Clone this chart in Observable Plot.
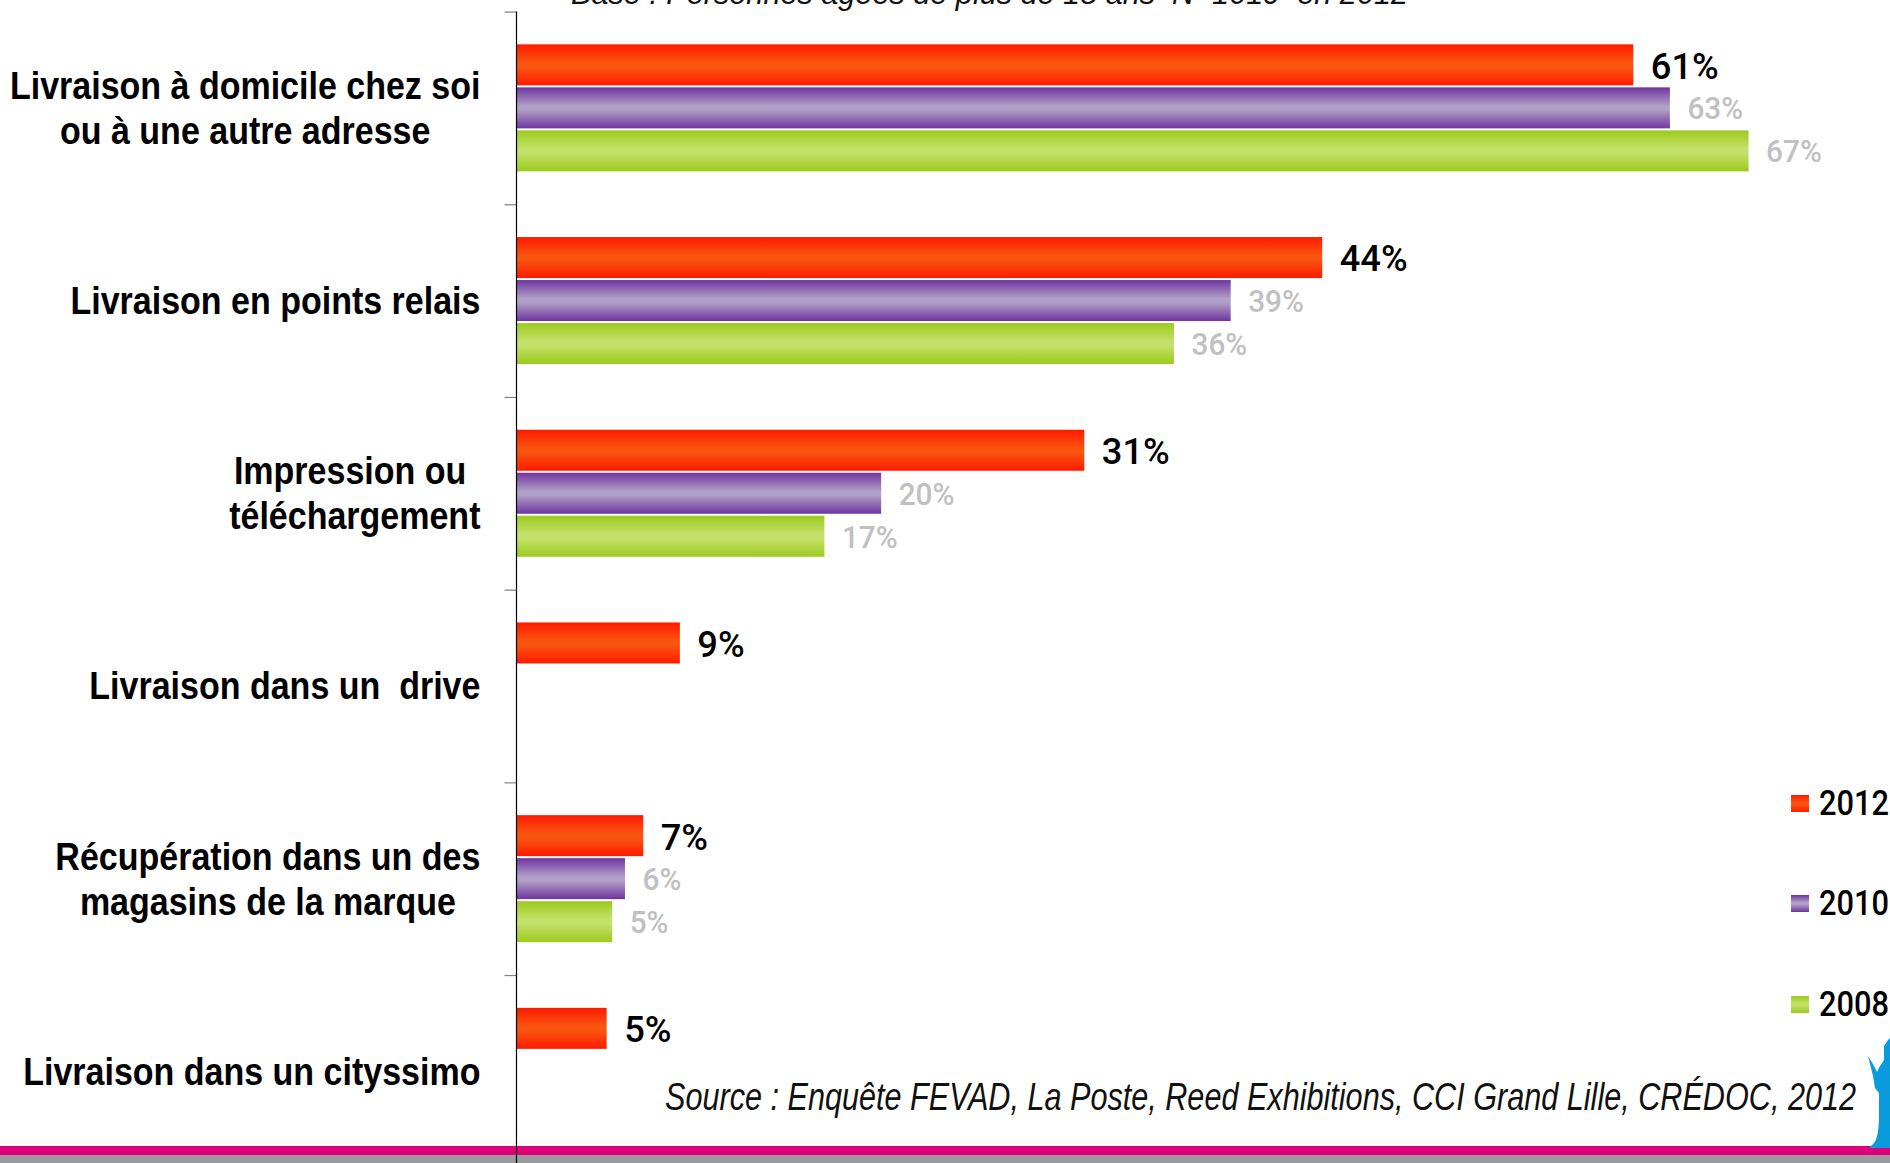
<!DOCTYPE html>
<html lang="fr"><head><meta charset="utf-8">
<script src="https://cdn.jsdelivr.net/npm/d3@7"></script>
<script src="https://cdn.jsdelivr.net/npm/@observablehq/plot@0.6"></script>
<style>
html,body{margin:0;padding:0;background:#fff;width:1890px;height:1163px;overflow:hidden}
#stage{position:relative;width:1890px;height:1163px;overflow:hidden;font-family:"Liberation Sans",sans-serif}
#stage svg.chart{position:absolute;left:0;top:0;background:transparent}
.band{position:absolute;left:0;width:1890px}
.note{position:absolute;white-space:pre;font-style:italic;color:#111;transform-origin:0 0}
.leg{position:absolute;left:1791px;display:flex;align-items:center;font-family:Roboto,sans-serif;font-weight:500;font-size:35px;color:#000;line-height:40px}
.leg i{display:block;width:18px;height:17px;margin-right:10px}
.leg span{display:block;transform:scaleX(.88);transform-origin:0 50%;position:relative;top:1px}
</style></head><body>
<div id="stage">
  <div class="band" style="top:1146px;height:9px;background:#e0007a"></div>
  <div class="band" style="top:1155px;height:8px;background:#9b9b9f"></div>
  <svg style="position:absolute;left:1866px;top:1038px" width="24" height="110" viewBox="0 0 24 110"><path fill="#0a9bdc" d="M22 2 L24 0 V110 H3 L8 105 C12 100 13 90 13 75 L13 55 L9 50 L7 38 L2 18 L7 26 L11 34 L14 28 L18 22 L18 8 Z"/></svg>
</div>
<script>
const categories = [
  "Livraison à domicile chez soi\nou à une autre adresse",
  "Livraison en points relais",
  "Impression ou \ntéléchargement",
  "Livraison dans un  drive",
  "Récupération dans un des\nmagasins de la marque",
  "Livraison dans un cityssimo"
];
const years = [2012, 2010, 2008];
const values2012 = [61, 44, 31, 8.9, 6.9, 4.9];
const values2010 = [63, 39, 19.9, null, 5.9, null];
const values2008 = [67.3, 35.9, 16.8, null, 5.2, null];
const labels2012 = ["61%", "44%", "31%", "9%", "7%", "5%"];
const labels2010 = ["63%", "39%", "20%", null, "6%", null];
const labels2008 = ["67%", "36%", "17%", null, "5%", null];
const subtitle = "Base : Personnes âgées de plus de 18 ans  N=1019  en 2012";
const source = "Source : Enquête FEVAD, La Poste, Reed Exhibitions, CCI Grand Lille, CRÉDOC, 2012";

const series = [[2012, values2012, labels2012], [2010, values2010, labels2010], [2008, values2008, labels2008]];
const rows = series.flatMap(([year, vals, labs]) =>
  categories.map((category, i) => ({category, year, value: vals[i], label: labs[i]})).filter(d => d.value != null));

const FONT = '"Liberation Sans",sans-serif';
const VALUE_FONT = 'Roboto,sans-serif';
const gradients = {
  2012: ["#ff1a00", "#fa5510"],
  2010: ["#6f35a0", "#b09fc6"],
  2008: ["#9dca1e", "#c3e169"]
};
function defsMark() {
  const ns = "http://www.w3.org/2000/svg";
  const defs = document.createElementNS(ns, "defs");
  for (const [y, [edge, mid]] of Object.entries(gradients)) {
    const g = document.createElementNS(ns, "linearGradient");
    g.setAttribute("id", "g" + y);
    g.setAttribute("x1", 0); g.setAttribute("x2", 0); g.setAttribute("y1", 0); g.setAttribute("y2", 1);
    [[0, edge], [0.45, mid], [0.55, mid], [1, edge]].forEach(([o, c]) => {
      const s = document.createElementNS(ns, "stop");
      s.setAttribute("offset", o); s.setAttribute("stop-color", c); g.appendChild(s);
    });
    defs.appendChild(g);
  }
  return defs;
}
// horizontally condense the text of a mark around its anchor
const condense = k => (index, scales, values, dimensions, context, next) => {
  const g = next(index, scales, values, dimensions, context);
  g.querySelectorAll("text").forEach(t => {
    t.setAttribute("transform", `${t.getAttribute("transform") || ""} scale(${k},1)`);
  });
  return g;
};

const ctx = document.createElement("canvas").getContext("2d");
const LABEL_SIZE = 38, LABEL_K = 0.895;
ctx.font = `700 ${LABEL_SIZE}px ${FONT}`;
const categoryMarks = categories.map(c => {
  const widest = d3.max(c.split("\n"), s => ctx.measureText(s).width) * LABEL_K;
  return Plot.text([c], {
    x: () => 0, fy: d => d, text: d => d, frameAnchor: "middle",
    textAnchor: "middle", dx: -37 - widest / 2, dy: -1.5, fontSize: LABEL_SIZE, fontWeight: 700,
    lineHeight: 1.184, fill: "#000", fontFamily: FONT, render: condense(LABEL_K)
  });
});

const chart = Plot.plot({
  width: 1890, height: 1163,
  marginTop: 0, marginBottom: 0, marginLeft: 0, marginRight: 0,
  x: {domain: [0, 70], range: [517, 1798], axis: null},
  fy: {domain: categories, range: [11.5, 1167.7], padding: 0, round: false, axis: null},
  y: {domain: years, paddingInner: 0.0465, paddingOuter: 0.764, round: false, axis: null},
  color: {domain: years, range: years.map(y => `url(#g${y})`)},
  marks: [
    defsMark,
    Plot.ruleY([years[0]], {y: d => d, x1: -0.68, x2: 0, dy: -53.3, stroke: "#808080", strokeWidth: 1.2}),
    Plot.barX(rows, {x: "value", y: "year", fy: "category", fill: "year"}),
    Plot.ruleX([0], {stroke: "#000", strokeWidth: 1.2, dx: -1}),
    Plot.text(rows.filter(d => d.year === 2012), {
      x: "value", y: "year", fy: "category", text: "label", textAnchor: "start", dx: 17, dy: 1.5,
      fontSize: 37, fontWeight: 500, fill: "#000", fontFamily: VALUE_FONT, render: condense(0.98)
    }),
    Plot.text(rows.filter(d => d.year !== 2012), {
      x: "value", y: "year", fy: "category", text: "label", textAnchor: "start", dx: 17, dy: 1,
      fontSize: 31, fontWeight: 500, fill: "#c0c0c0", fontFamily: VALUE_FONT, render: condense(0.96)
    }),
    ...categoryMarks
  ]
});
chart.classList.add("chart");
const stage = document.getElementById("stage");
stage.appendChild(chart);

function note(text, left, top, size, targetWidth) {
  const d = document.createElement("div");
  d.className = "note"; d.textContent = text;
  ctx.font = `italic 400 ${size}px ${FONT}`;
  const k = targetWidth / ctx.measureText(text).width;
  d.style.cssText = `left:${left}px;top:${top}px;font-size:${size}px;line-height:${size * 1.2}px;transform:scaleX(${k})`;
  stage.appendChild(d);
}
note(subtitle, 571, -26, 32, 837);
note(source, 665, 1075, 38, 1191);

const legendTops = [783, 883, 984];
years.forEach((y, i) => {
  const d = document.createElement("div");
  d.className = "leg"; d.style.top = legendTops[i] + "px";
  const sw = document.createElement("i");
  const [e, m] = gradients[y];
  sw.style.background = `linear-gradient(${e},${m} 45%,${m} 55%,${e})`;
  const label = document.createElement("span");
  label.textContent = y;
  d.appendChild(sw); d.appendChild(label);
  stage.appendChild(d);
});
</script>
</body></html>
